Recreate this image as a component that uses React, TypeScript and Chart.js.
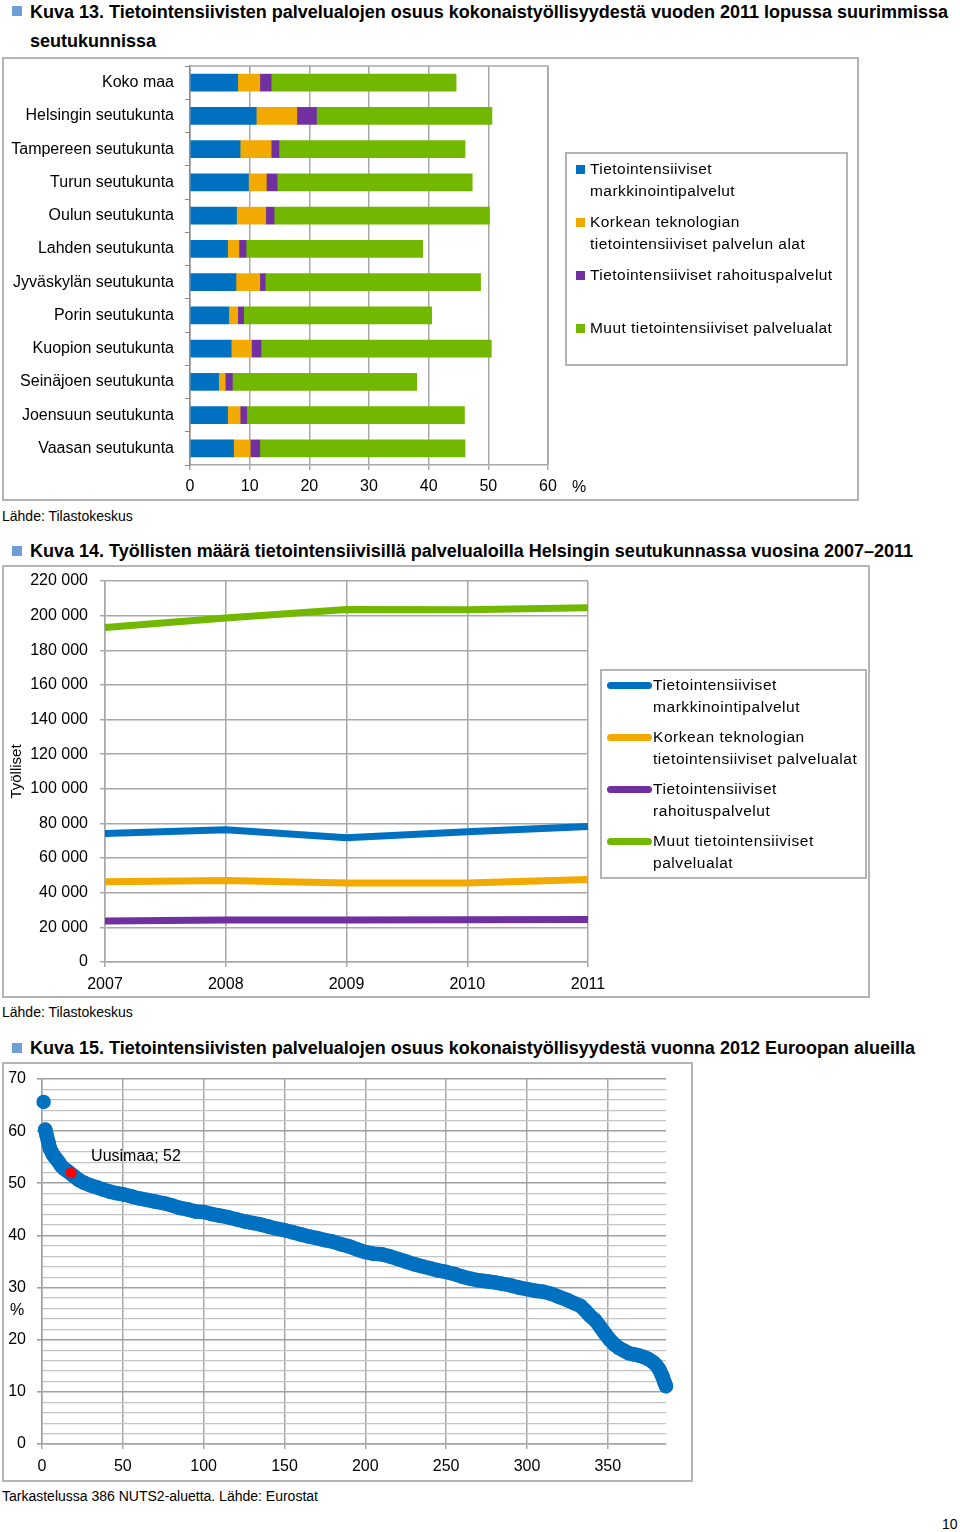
import React, { useEffect, useRef } from 'react';
import { Chart, registerables } from 'chart.js';

Chart.register(...registerables);

const FONT = '"Liberation Sans", Arial, sans-serif';

// ---------- Kuva 13 data ----------
const regions = [
  'Koko maa',
  'Helsingin seutukunta',
  'Tampereen seutukunta',
  'Turun seutukunta',
  'Oulun seutukunta',
  'Lahden seutukunta',
  'Jyväskylän seutukunta',
  'Porin seutukunta',
  'Kuopion seutukunta',
  'Seinäjoen seutukunta',
  'Joensuun seutukunta',
  'Vaasan seutukunta',
];
const shareMarketing = [8.0, 11.1, 8.4, 9.8, 7.8, 6.3, 7.7, 6.5, 6.9, 4.8, 6.3, 7.3];
const shareHighTech = [3.7, 6.8, 5.2, 3.0, 4.9, 1.9, 4.0, 1.5, 3.4, 1.1, 2.1, 2.8];
const shareFinance = [1.9, 3.3, 1.3, 1.8, 1.4, 1.2, 0.9, 1.0, 1.6, 1.2, 1.1, 1.6];
const shareOther = [31.0, 29.4, 31.2, 32.7, 36.1, 29.6, 36.1, 31.5, 38.6, 30.9, 36.5, 34.4];
const barLegend = [
  ['Tietointensiiviset', 'markkinointipalvelut'],
  ['Korkean teknologian', 'tietointensiiviset palvelun alat'],
  ['Tietointensiiviset rahoituspalvelut'],
  ['Muut tietointensiiviset palvelualat'],
];

// ---------- Kuva 14 data ----------
const years = ['2007', '2008', '2009', '2010', '2011'];
const empMarketing = [74200, 76400, 71700, 75200, 78300];
const empHighTech = [46400, 47100, 45600, 45600, 47700];
const empFinance = [23700, 24200, 24200, 24400, 24600];
const empOther = [193200, 198700, 203500, 203400, 204600];
const lineLegend = [
  ['Tietointensiiviset', 'markkinointipalvelut'],
  ['Korkean teknologian', 'tietointensiiviset palvelualat'],
  ['Tietointensiiviset', 'rahoituspalvelut'],
  ['Muut tietointensiiviset', 'palvelualat'],
];

// ---------- Kuva 15 data ----------
const regionRanks = [
  1, 2, 3, 4, 5, 6, 7, 8, 10, 12, 14, 16, 20, 23, 26, 30, 34, 38, 42, 46, 50, 55, 60, 65, 70, 75,
  80, 85, 90, 95, 100, 105, 110, 115, 120, 125, 130, 135, 140, 145, 150, 155, 160, 165, 170, 175,
  180, 185, 190, 195, 200, 205, 210, 215, 220, 225, 230, 235, 240, 245, 250, 255, 260, 265, 270,
  275, 280, 285, 290, 295, 300, 305, 310, 315, 320, 325, 330, 333, 336, 339, 342, 345, 348, 351,
  354, 357, 360, 363, 366, 369, 372, 375, 378, 380, 382, 383, 384, 385, 386,
];
const regionShares = [
  65.6, 60.3, 59.0, 57.8, 56.6, 56.0, 55.4, 55.0, 54.2, 53.3, 52.7, 52.3, 51.3, 50.6, 50.1, 49.6,
  49.2, 48.8, 48.4, 48.1, 47.9, 47.5, 47.1, 46.8, 46.5, 46.2, 45.8, 45.3, 45.0, 44.6, 44.5, 44.1,
  43.8, 43.5, 43.1, 42.7, 42.4, 42.1, 41.7, 41.3, 41.0, 40.6, 40.2, 39.8, 39.5, 39.1, 38.8, 38.3,
  37.9, 37.3, 36.8, 36.5, 36.4, 36.0, 35.5, 35.0, 34.5, 34.1, 33.7, 33.3, 33.0, 32.6, 32.1, 31.7,
  31.4, 31.2, 31.0, 30.7, 30.4, 30.0, 29.7, 29.4, 29.2, 28.8, 28.2, 27.6, 26.9, 26.5, 25.6, 24.6,
  23.8, 22.6, 21.3, 20.1, 19.1, 18.4, 17.9, 17.4, 17.2, 17.0, 16.7, 16.3, 15.7, 15.1, 14.2, 13.5,
  12.8, 11.9, 11.1,
];
const uusimaaRank = [18];
const uusimaaShare = [52];
const xTicks15 = [0, 50, 100, 150, 200, 250, 300, 350];

const BLUE = '#0070C0';
const ORANGE = '#F2A900';
const PURPLE = '#7030A0';
const GREEN = '#72B800';
const GRID = '#A8A8A8';
const seriesColors = [BLUE, ORANGE, PURPLE, GREEN];

const tickFont = { family: FONT, size: 16 };

const noPadV = (w: number) => (s: any) => {
  s.width = w;
  s.paddingTop = 0;
  s.paddingBottom = 0;
};
const noPadH = (h: number) => (s: any) => {
  s.height = h;
  s.paddingLeft = 0;
  s.paddingRight = 0;
};

const frame = {
  id: 'frame',
  beforeDatasetsDraw(chart: any) {
    const { ctx, chartArea: a } = chart;
    ctx.save();
    ctx.strokeStyle = GRID;
    ctx.lineWidth = 1.5;
    ctx.beginPath();
    ctx.moveTo(a.left, a.top);
    ctx.lineTo(a.right, a.top);
    ctx.lineTo(a.right, a.bottom);
    ctx.stroke();
    ctx.restore();
  },
};

const uusimaaLabel = {
  id: 'uusimaaLabel',
  afterDatasetsDraw(chart: any) {
    const meta = chart.getDatasetMeta(0);
    const pt = meta.data[0];
    if (!pt) return;
    const { ctx } = chart;
    ctx.save();
    ctx.font = `16px ${FONT}`;
    ctx.fillStyle = '#000';
    ctx.textBaseline = 'middle';
    ctx.textAlign = 'left';
    ctx.fillText(`Uusimaa; ${uusimaaShare[0]}`, pt.x + 20, pt.y - 16);
    ctx.restore();
  },
};

const fmtThousands = (v: number) => String(v).replace(/\B(?=(\d{3})+(?!\d))/g, ' ');

function makeBarConfig(): any {
  const series = [shareMarketing, shareHighTech, shareFinance, shareOther];
  return {
    type: 'bar',
    data: {
      labels: regions,
      datasets: series.map((d, i) => ({
        label: barLegend[i].join(' '),
        data: d,
        backgroundColor: seriesColors[i],
        borderWidth: 0,
        barThickness: 17,
      })),
    },
    options: {
      indexAxis: 'y',
      animation: false,
      responsive: false,
      maintainAspectRatio: false,
      layout: { padding: { top: 8, right: 310, left: 0, bottom: 0 } },
      plugins: { legend: { display: false }, tooltip: { enabled: false } },
      scales: {
        x: {
          stacked: true,
          min: 0,
          max: 60,
          ticks: { stepSize: 10, color: '#000', font: tickFont, padding: 7 },
          grid: { color: GRID, lineWidth: 1.5, tickLength: 5 },
          border: { color: GRID, width: 1.5 },
          afterFit: noPadH(35),
        },
        y: {
          stacked: true,
          ticks: { color: '#000', font: tickFont, padding: 11 },
          grid: { drawOnChartArea: false, tickLength: 5, color: '#8C8C8C' },
          border: { color: '#8C8C8C', width: 1.5 },
          afterFit: noPadV(187),
        },
      },
    },
    plugins: [frame],
  };
}

function makeLineConfig(): any {
  const series = [empMarketing, empHighTech, empFinance, empOther];
  return {
    type: 'line',
    data: {
      labels: years,
      datasets: series.map((d, i) => ({
        label: lineLegend[i].join(' '),
        data: d,
        borderColor: seriesColors[i],
        backgroundColor: seriesColors[i],
        borderWidth: 7,
        pointRadius: 0,
        tension: 0,
        fill: false,
      })),
    },
    options: {
      animation: false,
      responsive: false,
      maintainAspectRatio: false,
      layout: { padding: { top: 15, right: 281, left: 0, bottom: 0 } },
      plugins: { legend: { display: false }, tooltip: { enabled: false } },
      scales: {
        x: {
          type: 'category',
          offset: false,
          ticks: { color: '#000', font: tickFont, padding: 8 },
          grid: { offset: false, color: GRID, lineWidth: 1.5, tickLength: 5 },
          border: { color: GRID, width: 1.5 },
          afterFit: noPadH(35),
        },
        y: {
          min: 0,
          max: 220000,
          ticks: {
            stepSize: 20000,
            color: '#000',
            font: tickFont,
            padding: 12,
            callback: (v: number) => fmtThousands(v),
          },
          grid: { color: GRID, lineWidth: 1.5, tickLength: 5 },
          border: { color: GRID, width: 1.5 },
          title: {
            display: true,
            text: 'Työlliset',
            color: '#000',
            font: { family: FONT, size: 15 },
            padding: { top: 5, bottom: 0 },
          },
          afterFit: noPadV(102),
        },
      },
    },
  };
}

function makeScatterConfig(): any {
  return {
    type: 'scatter',
    data: {
      datasets: [
        {
          label: 'Uusimaa',
          data: uusimaaRank.map((r, i) => ({ x: r, y: uusimaaShare[i] })),
          backgroundColor: '#FF0000',
          borderWidth: 0,
          pointRadius: 5.5,
          clip: false,
        },
        {
          label: 'NUTS2',
          data: regionRanks.map((r, i) => ({ x: r, y: regionShares[i] })),
          backgroundColor: BLUE,
          borderColor: BLUE,
          showLine: true,
          borderWidth: 14.5,
          borderJoinStyle: 'round',
          borderCapStyle: 'round',
          segment: {
            borderColor: (c: any) => (c.p0DataIndex === 0 ? 'rgba(0,0,0,0)' : BLUE),
          },
          pointBorderWidth: 0,
          pointRadius: 7.2,
          clip: false,
        },
      ],
    },
    options: {
      animation: false,
      responsive: false,
      maintainAspectRatio: false,
      layout: { padding: { top: 16, right: 26, left: 0, bottom: 0 } },
      plugins: { legend: { display: false }, tooltip: { enabled: false } },
      scales: {
        x: {
          type: 'linear',
          min: 0,
          max: 386,
          afterBuildTicks: (s: any) => {
            s.ticks = xTicks15.map((v) => ({ value: v }));
          },
          ticks: { color: '#000', font: tickFont, padding: 8, autoSkip: false },
          grid: { color: GRID, lineWidth: 1.5, tickLength: 5 },
          border: { color: GRID, width: 1.5 },
          afterFit: noPadH(37),
        },
        y: {
          min: 0,
          max: 70,
          ticks: {
            stepSize: 2,
            autoSkip: false,
            color: '#000',
            font: tickFont,
            padding: 11,
            callback: (v: number) => (v % 10 === 0 ? String(v) : ''),
          },
          grid: {
            color: (c: any) => (c.tick && c.tick.value % 10 === 0 ? '#A0A0A0' : '#C4C4C4'),
            lineWidth: (c: any) => (c.tick && c.tick.value % 10 === 0 ? 1.6 : 1.2),
            tickColor: (c: any) => (c.tick && c.tick.value % 10 === 0 ? '#A0A0A0' : 'rgba(0,0,0,0)'),
            tickLength: 5,
          },
          border: { color: '#A0A0A0', width: 1.5 },
          afterFit: noPadV(39),
        },
      },
    },
    plugins: [uusimaaLabel],
  };
}

function ChartCanvas({ left, top, width, height, make }: any) {
  const ref = useRef<HTMLCanvasElement>(null);
  useEffect(() => {
    const chart = new Chart(ref.current as HTMLCanvasElement, make());
    return () => chart.destroy();
  }, []);
  return (
    <canvas
      ref={ref}
      width={width}
      height={height}
      style={{ position: 'absolute', left, top, width, height, display: 'block' }}
    />
  );
}

function Box({ left, top, width, height }: any) {
  return (
    <div
      style={{
        position: 'absolute',
        left,
        top,
        width,
        height,
        boxSizing: 'border-box',
        border: '2px solid #B4B4B4',
      }}
    />
  );
}

function Text({ x, y, size = 14, bold = false, lh, children, spacing = 0 }: any) {
  const lineH = lh || size * 1.25;
  return (
    <div
      style={{
        position: 'absolute',
        left: x,
        top: y - lineH / 2,
        fontFamily: FONT,
        fontSize: size,
        fontWeight: bold ? 'bold' : 'normal',
        lineHeight: `${lineH}px`,
        whiteSpace: 'nowrap',
        color: '#000',
        letterSpacing: spacing,
      }}
    >
      {children}
    </div>
  );
}

function Icon({ x, y }: any) {
  return (
    <div
      style={{ position: 'absolute', left: x, top: y, width: 10, height: 10, background: '#6E9ED6' }}
    />
  );
}

function BarLegend() {
  return (
    <>
      <Box left={565} top={152} width={283} height={214} />
      {barLegend.map((lines, i) => (
        <React.Fragment key={i}>
          <div
            style={{
              position: 'absolute',
              left: 576,
              top: 165 + i * 53,
              width: 9,
              height: 9,
              background: seriesColors[i],
            }}
          />
          <div
            style={{
              position: 'absolute',
              left: 590,
              top: 158 + i * 53,
              fontFamily: FONT,
              fontSize: 15.5,
              lineHeight: '22px',
              whiteSpace: 'nowrap',
              letterSpacing: 0.45,
            }}
          >
            {lines.map((l, j) => (
              <div key={j}>{l}</div>
            ))}
          </div>
        </React.Fragment>
      ))}
    </>
  );
}

function LineLegend() {
  return (
    <>
      <Box left={600} top={669} width={267} height={210} />
      {lineLegend.map((lines, i) => (
        <React.Fragment key={i}>
          <div
            style={{
              position: 'absolute',
              left: 607,
              top: 682 + i * 52,
              width: 45,
              height: 7,
              borderRadius: 4,
              background: seriesColors[i],
            }}
          />
          <div
            style={{
              position: 'absolute',
              left: 653,
              top: 674 + i * 52,
              fontFamily: FONT,
              fontSize: 15.5,
              lineHeight: '22px',
              whiteSpace: 'nowrap',
              letterSpacing: 0.55,
            }}
          >
            {lines.map((l, j) => (
              <div key={j}>{l}</div>
            ))}
          </div>
        </React.Fragment>
      ))}
    </>
  );
}

export default function App() {
  return (
    <div
      style={{
        position: 'absolute',
        left: 0,
        top: 0,
        width: 960,
        height: 1532,
        background: '#fff',
        overflow: 'hidden',
      }}
    >
      {/* Kuva 13 */}
      <Icon x={12} y={6} />
      <Text x={30} y={12} size={18} bold lh={29}>
        Kuva 13. Tietointensiivisten palvelualojen osuus kokonaistyöllisyydestä vuoden 2011 lopussa suurimmissa
        <br />
        seutukunnissa
      </Text>
      <Box left={2} top={57} width={857} height={444} />
      <ChartCanvas left={3} top={58} width={855} height={442} make={makeBarConfig} />
      <Text x={572} y={487} size={16}>
        %
      </Text>
      <BarLegend />
      <Text x={2} y={517}>
        Lähde: Tilastokeskus
      </Text>

      {/* Kuva 14 */}
      <Icon x={12} y={546} />
      <Text x={30} y={551} size={18} bold>
        Kuva 14. Työllisten määrä tietointensiivisillä palvelualoilla Helsingin seutukunnassa vuosina 2007–2011
      </Text>
      <Box left={2} top={565} width={868} height={433} />
      <ChartCanvas left={3} top={566} width={866} height={431} make={makeLineConfig} />
      <LineLegend />
      <Text x={2} y={1013}>
        Lähde: Tilastokeskus
      </Text>

      {/* Kuva 15 */}
      <Icon x={12} y={1043} />
      <Text x={30} y={1048} size={18} bold>
        Kuva 15. Tietointensiivisten palvelualojen osuus kokonaistyöllisyydestä vuonna 2012 Euroopan alueilla
      </Text>
      <Box left={2} top={1062} width={691} height={420} />
      <ChartCanvas left={3} top={1063} width={689} height={418} make={makeScatterConfig} />
      <Text x={10} y={1310} size={16}>
        %
      </Text>
      <Text x={2} y={1497}>
        Tarkastelussa 386 NUTS2-aluetta. Lähde: Eurostat
      </Text>
      <Text x={942} y={1525}>
        10
      </Text>
    </div>
  );
}
